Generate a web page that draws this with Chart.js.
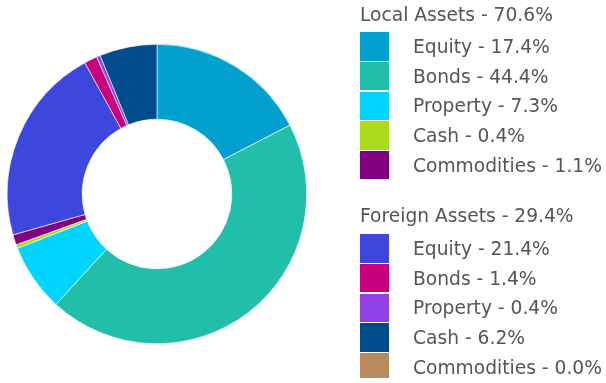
<!DOCTYPE html>
<html>
<head>
<meta charset="utf-8">
<script src="https://cdn.jsdelivr.net/npm/chart.js@4/dist/chart.umd.min.js"></script>
<style>
  html, body { margin: 0; padding: 0; background: #fff; }
  #wrap { position: relative; width: 606px; height: 383px; overflow: hidden; }
  #pie { position: absolute; left: 0; top: 0; width: 314px; height: 388px; }
  #legend { position: absolute; left: 0; top: 0; width: 606px; height: 378px; overflow: hidden;
            font-family: 'DejaVu Sans', sans-serif; font-size: 18.67px; color: #555; }
  .hdr { position: absolute; left: 360px; white-space: nowrap; line-height: 22px; }
  .sw { position: absolute; left: 360px; width: 29px; }
  .lbl { position: absolute; left: 413px; white-space: nowrap; line-height: 22px; }
</style>
</head>
<body>
<div id="wrap">
  <div id="pie"><canvas id="assetMix"></canvas></div>
  <div id="legend"></div>
</div>
<script>
// asset classes shared by both groups
const classes = ['Equity', 'Bonds', 'Property', 'Cash', 'Commodities'];

const localTotal = 70.6;
const localValues = [17.4, 44.4, 7.3, 0.4, 1.1];
const localColors = ['#02a0cf', '#21bfaa', '#00d4ff', '#acdb1d', '#80007f'];

const foreignTotal = 29.4;
const foreignValues = [21.4, 1.4, 0.4, 6.2, 0.0];
const foreignColors = ['#3e47dd', '#c8007d', '#9040e6', '#004c8c', '#b98a5e'];

const groups = [
    { name: 'Local Assets', total: localTotal, values: localValues, colors: localColors, hdrTop: 4, rowTop: 32.3 },
    { name: 'Foreign Assets', total: foreignTotal, values: foreignValues, colors: foreignColors, hdrTop: 205, rowTop: 234.3 }
];
const rowPitch = 29.6;

// legend, built from the same arrays as the slices
const legend = document.getElementById('legend');
groups.forEach(function(g) {
    const h = document.createElement('div');
    h.className = 'hdr';
    h.style.top = g.hdrTop + 'px';
    h.textContent = g.name + ' - ' + g.total.toFixed(1) + '%';
    legend.appendChild(h);

    classes.forEach(function(c, i) {
        const y = g.rowTop + i * rowPitch;
        const sw = document.createElement('div');
        sw.className = 'sw';
        sw.style.top = y + 'px';
        sw.style.height = (rowPitch - 1) + 'px';
        sw.style.background = g.colors[i];
        legend.appendChild(sw);

        const t = document.createElement('div');
        t.className = 'lbl';
        t.style.top = (y + rowPitch / 2 - 11) + 'px';
        t.textContent = c + ' - ' + g.values[i].toFixed(1) + '%';
        legend.appendChild(t);
    });
});

new Chart(document.getElementById('assetMix'), {
    type: 'doughnut',
    data: {
        labels: classes.map(c => 'Local ' + c).concat(classes.map(c => 'Foreign ' + c)),
        datasets: [{
            data: localValues.concat(foreignValues),
            backgroundColor: localColors.concat(foreignColors),
            borderColor: '#ffffff',
            borderWidth: 0.6,
            hoverOffset: 0,
            hoverBorderWidth: 0
        }]
    },
    options: {
        responsive: true,
        maintainAspectRatio: false,
        animation: false,
        cutout: '50%',
        layout: { padding: { left: 7, right: 7, top: 44, bottom: 44 } },
        plugins: {
            legend: { display: false },
            tooltip: { enabled: false }
        }
    }
});
</script>
</body>
</html>
